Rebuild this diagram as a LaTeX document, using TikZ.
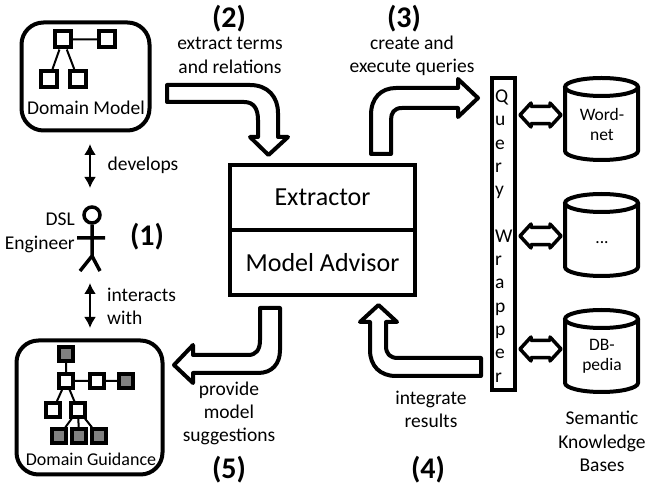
\documentclass[tikz,border=0pt]{standalone}
\usepackage{fontspec}
\setmainfont{Carlito}
\usetikzlibrary{arrows.meta,shapes.arrows}
\tikzset{
  lbl/.style={align=center,inner sep=0,font=\fontsize{19.5}{23.3}\selectfont},
  num/.style={inner sep=0,font=\fontsize{30}{30}\selectfont\bfseries},
  smalllbl/.style={align=center,inner sep=0,font=\fontsize{17.5}{20}\selectfont},
  bigbox/.style={draw,line width=4,minimum width=185,minimum height=65,inner sep=0,font=\fontsize{26}{30}\selectfont},
  panel/.style={draw,line width=4,rounded corners=22,inner sep=0},
  item/.style={draw,line width=4,fill=white,minimum size=16,inner sep=0},
  guide/.style={draw,line width=3.5,fill=white,minimum size=14,inner sep=0},
  guidegray/.style={guide,fill=gray},
  store/.style={line width=4},
  link/.style={draw,line width=3.5,line join=round,double arrow,double arrow head extend=3,double arrow tip angle=95,minimum width=24,minimum height=41,inner sep=6},
  flow/.style={line width=4,line join=round},
  bothway/.style={line width=2.5,{Latex[length=11,width=12]}-{Latex[length=11,width=12]}}
}
\begin{document}
\begin{tikzpicture}[x=1pt,y=-1pt]
\useasboundingbox (0,0) rectangle (646,486);
% domain model
\node[panel,minimum width=128,minimum height=108] (model) at (85.5,76.5) {};
\node[item] (m1) at (63,39.5) {};
\node[item] (m2) at (107,39.5) {};
\node[item] (m3) at (49,79) {};
\node[item] (m4) at (78,79) {};
\draw[line width=2] (m1) -- (m2) (m1) -- (m3) (m1) -- (m4);
\node[lbl] (modellbl) at (86,108) {Domain Model};
% engineer
\node[draw,circle,line width=3.5,minimum size=16,inner sep=0] (head) at (92,215) {};
\coordinate (hip) at (92,256);
\coordinate (armleft) at (77,238);
\coordinate (armright) at (105,238);
\coordinate (footleft) at (80,271);
\coordinate (footright) at (100,271);
\draw[line width=3.5] (head) -- (hip) (armleft) -- (armright) (footleft) -- (hip) -- (footright);
\node[lbl,align=right,anchor=east] (engineer) at (75,233) {DSL\\Engineer};
\node[num] (n1) at (147,237) {(1)};
\coordinate (devtop) at (90,144);
\coordinate (devbot) at (90,188);
\coordinate (inttop) at (90,283);
\coordinate (intbot) at (90,328);
\draw[bothway] (devtop) -- (devbot);
\draw[bothway] (inttop) -- (intbot);
\node[lbl] (develops) at (143,165) {develops};
\node[lbl,align=left,anchor=west] (interacts) at (107,306.5) {interacts\\with};
% domain guidance
\node[panel,minimum width=146,minimum height=134] (guidance) at (89.5,407.5) {};
\node[guidegray] (g1) at (66,354) {};
\node[guide] (g2) at (66,381) {};
\node[guide] (g3) at (97,381) {};
\node[guidegray] (g4) at (126,381) {};
\node[guide] (g5) at (53,410) {};
\node[guide] (g6) at (78,410) {};
\node[guidegray] (g7) at (59,436) {};
\node[guidegray] (g8) at (79,436) {};
\node[guidegray] (g9) at (99,436) {};
\draw[line width=2] (g1) -- (g2) (g2) -- (g3) (g3) -- (g4) (g2) -- (g5) (g2) -- (g6) (g6) -- (g7) (g6) -- (g8) (g6) -- (g9);
\node[lbl,font=\fontsize{18}{20}\selectfont] (guidancelbl) at (91,459) {Domain Guidance};
% center
\node[bigbox] (extractor) at (322.5,197.5) {Extractor};
\node[bigbox] (advisor) at (322.5,262.5) {Model Advisor};
% block arrows
\draw[flow] (167,85) -- (250,85) .. controls (268,85) and (278,97) .. (278,113) -- (278,137) -- (288,137) -- (268.5,155) -- (250,137) -- (258,137) -- (258,120) .. controls (258,109) and (254,102) .. (244,102) -- (167,102) -- cycle;
\draw[flow] (371,154) -- (371,115) .. controls (371,98) and (381,88) .. (396,88) -- (458,88) -- (458,79) -- (478,98) -- (458,117) -- (458,108) -- (402,108) .. controls (394,108) and (391,113) .. (391,120) -- (391,154) -- cycle;
\draw[flow] (481,358) -- (398,358) .. controls (390,358) and (386,354) .. (386,346) -- (386,322) -- (397,322) -- (378.5,305) -- (360,322) -- (370,322) -- (370,350) .. controls (370,366) and (380,376) .. (396,376) -- (481,376) -- cycle;
\draw[flow] (260,308) -- (260,340) .. controls (260,350) and (256,355) .. (248,355) -- (193,355) -- (193,345) -- (174,365) -- (193,383) -- (193,373) -- (258,373) .. controls (272,373) and (280,364) .. (280,350) -- (280,308) -- cycle;
\node[num] (n2) at (229,19) {(2)};
\node[lbl] (extractlbl) at (230,55.5) {extract terms\\and relations};
\node[num] (n3) at (404,19) {(3)};
\node[lbl] (querylbl) at (412,55.5) {create and\\execute queries};
\node[num] (n4) at (428,470) {(4)};
\node[lbl] (integratelbl) at (431,409.5) {integrate\\results};
\node[num] (n5) at (229,470) {(5)};
\node[lbl] (providelbl) at (229,413.5) {provide\\model\\suggestions};
% query wrapper
\node[draw,line width=4,minimum width=23,minimum height=312,inner sep=0] (wrapper) at (503,234.5) {};
\node[lbl,align=left,anchor=west] (wrapperlbl) at (495,236) {Q\\u\\e\\r\\y\\\mbox{}\\W\\r\\a\\p\\p\\e\\r};
% knowledge bases
\foreach \y in {87,203,319} {
  \draw[store] (601.5,\y) ellipse (36.5pt and 9pt);
  \draw[store] (565,\y) -- (565,\y+64) arc[start angle=180,end angle=360,x radius=36.5pt,y radius=9pt] -- (638,\y);
}
\node[smalllbl] (wordnetlbl) at (602,124) {Word-\\net};
\node[smalllbl] (dotslbl) at (602,243) {...};
\node[smalllbl] (dbpedialbl) at (602,356) {DB-\\pedia};
\node[link] (link1) at (540.5,115) {};
\node[link] (link2) at (540.5,236) {};
\node[link] (link3) at (540.5,349) {};
\node[lbl] (semantic) at (602,441.5) {Semantic\\Knowledge\\Bases};
\end{tikzpicture}
\end{document}
